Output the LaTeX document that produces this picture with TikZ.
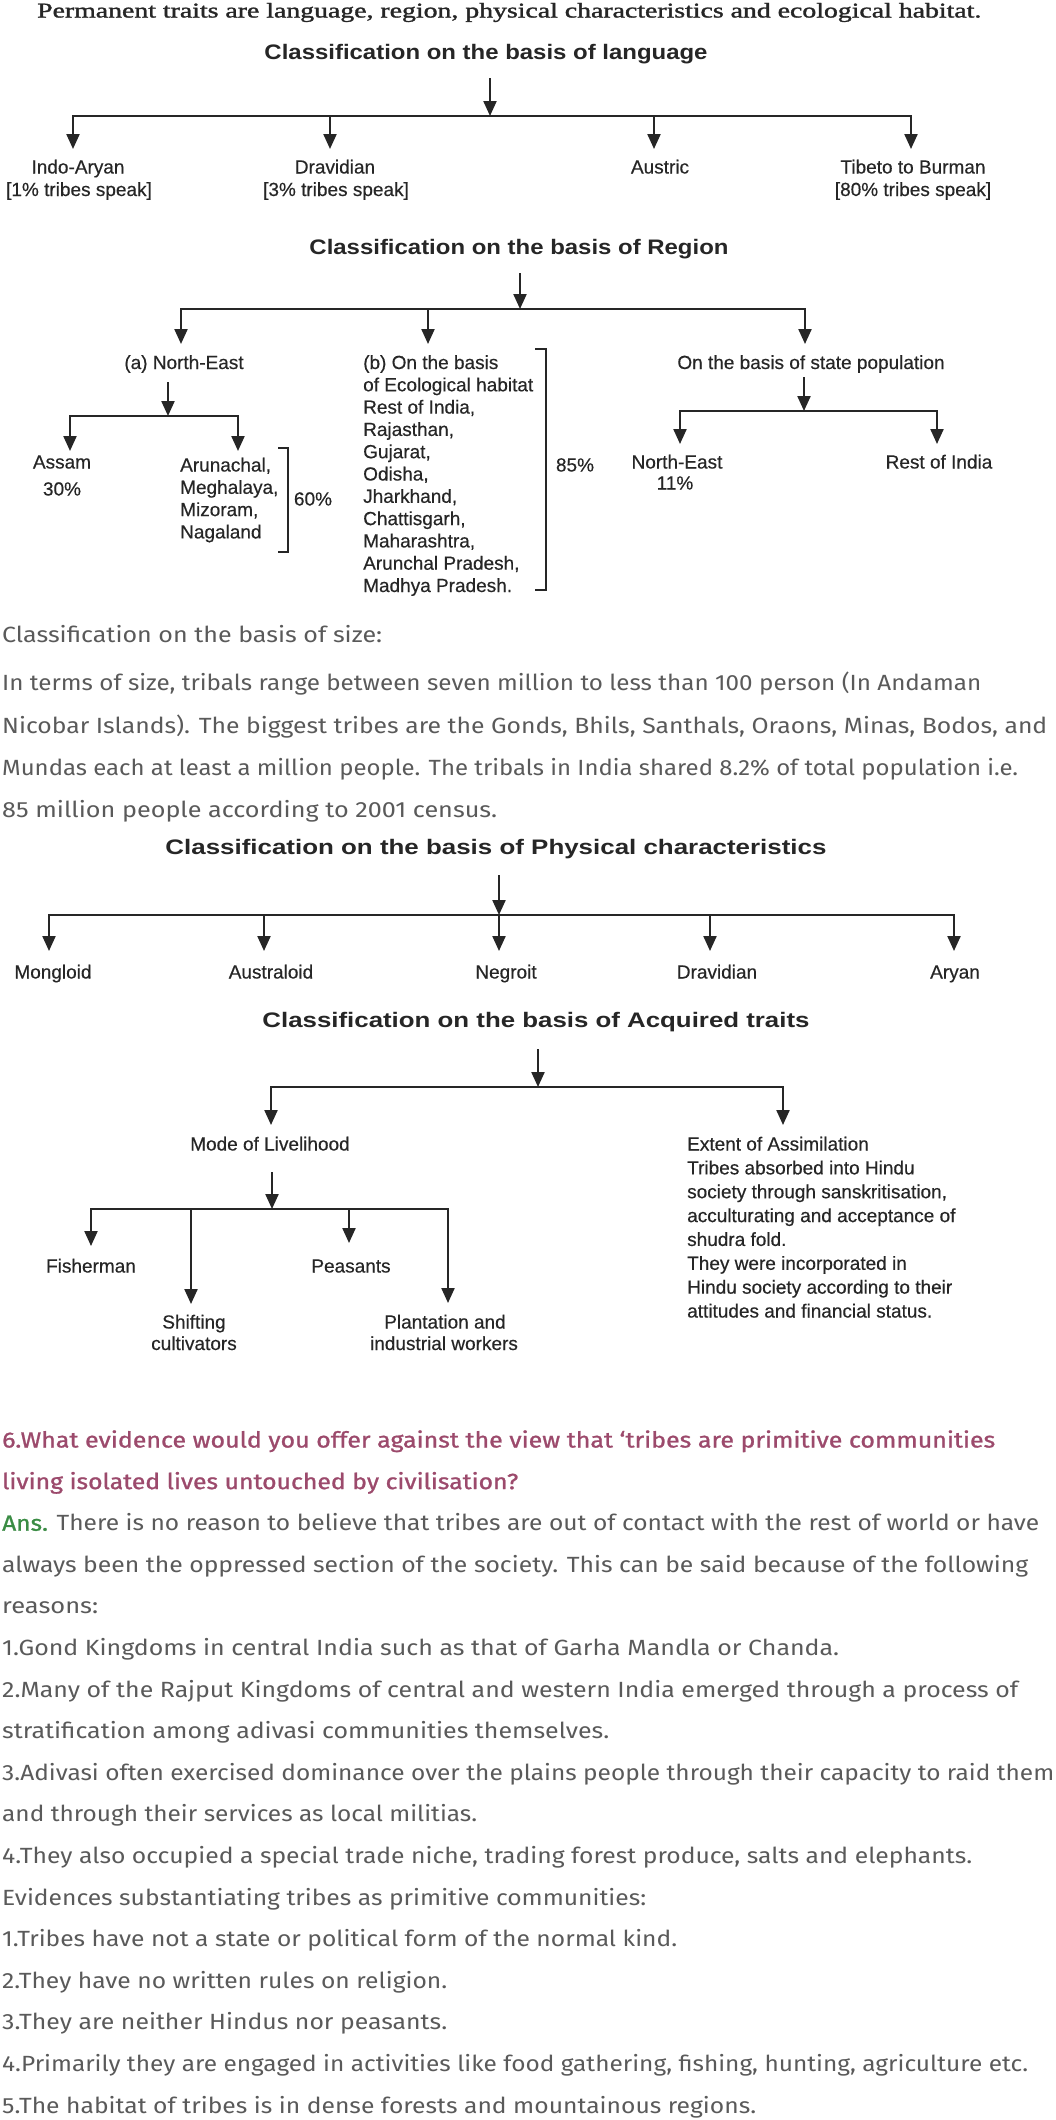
\documentclass[tikz,border=0pt]{standalone}
\usepackage{fontspec}
\usepackage{graphicx}
\setmainfont{Liberation Serif}
\newfontfamily\serifhead{Liberation Serif}[FakeBold=1.3]
\newfontfamily\dfont{Liberation Sans}[FakeBold=0.4]
\newfontfamily\dtitle{Liberation Sans}
\newfontfamily\bodyfont{Fira Sans}
\newfontfamily\qfont{Fira Sans}[FakeBold=1.0]
\usetikzlibrary{arrows.meta}
\definecolor{ink}{HTML}{262626}
\definecolor{bodycol}{HTML}{5A5A5A}
\definecolor{qcol}{RGB}{156,74,108}
\definecolor{anscol}{RGB}{58,140,68}
\tikzset{
  arr/.style={draw=ink, line width=2.2pt, -{Triangle[length=15pt,width=13pt]}},
  barline/.style={draw=ink, line width=2.6pt, line cap=rect},
  brk/.style={draw=ink, line width=2pt},
  lab/.style={font=\dfont\fontsize{19}{23}\selectfont, text=ink, inner sep=0pt, anchor=base},
  labl/.style={lab, anchor=base west},
  ttl/.style={font=\dtitle\bfseries\fontsize{21}{25}\selectfont, text=ink, inner sep=0pt, anchor=base},
  btxt/.style={font=\bodyfont\fontsize{22}{26}\selectfont, text=bodycol, inner sep=0pt, anchor=base west},
  qtxt/.style={font=\qfont\fontsize{22}{26}\selectfont, text=qcol, inner sep=0pt, anchor=base west},
}
\newcommand\fitto[2]{\resizebox{#1pt}{\height}{#2}}
\newcommand\bline[4]{\node[btxt] (#1) at (2,#2) {\fitto{#3}{#4}};}
\begin{document}
\begin{tikzpicture}[x=1pt,y=-1pt]
\fill[white] (0,0) rectangle (1055,2120);
\useasboundingbox (0,0) rectangle (1055,2120);

% top line
\node[font=\serifhead\fontsize{21}{24}\selectfont, anchor=base west, inner sep=0pt, text=black!85] (perm) at (37,17.5)
  {\fitto{944}{Permanent traits are language, region, physical characteristics and ecological habitat.}};

% ---------- language ----------
\node[ttl] (tlang) at (486,59.5) {\fitto{443}{Classification on the basis of language}};
\coordinate (ls) at (490,78);
\coordinate (lj) at (490,116);
\coordinate (lb1) at (73,116);
\coordinate (lb2) at (330,116);
\coordinate (lb3) at (654,116);
\coordinate (lb4) at (911,116);
\draw[arr] (ls) -- (lj);
\draw[barline] (lb1) -- (lb4);
\coordinate (lt1) at (73,149);
\coordinate (lt2) at (330,149);
\coordinate (lt3) at (654,149);
\coordinate (lt4) at (911,149);
\draw[arr] (lb1) -- (lt1);
\draw[arr] (lb2) -- (lt2);
\draw[arr] (lb3) -- (lt3);
\draw[arr] (lb4) -- (lt4);
\node[lab] (ia) at (78,173.5) {Indo-Aryan};
\node[lab] (ia2) at (79,196) {[1\% tribes speak]};
\node[lab] (dr) at (335,173.5) {Dravidian};
\node[lab] (dr2) at (336,196) {[3\% tribes speak]};
\node[lab] (au) at (660,173.5) {Austric};
\node[lab] (tb) at (913,173.5) {Tibeto to Burman};
\node[lab] (tb2) at (913,196) {[80\% tribes speak]};

% ---------- region ----------
\node[ttl] (treg) at (519,254.5) {\fitto{419}{Classification on the basis of Region}};
\coordinate (rs) at (520,273);
\coordinate (rj) at (520,309);
\coordinate (rb1) at (181,309);
\coordinate (rb2) at (428,309);
\coordinate (rb3) at (805,309);
\draw[arr] (rs) -- (rj);
\draw[barline] (rb1) -- (rb3);
\coordinate (rt1) at (181,344);
\coordinate (rt2) at (428,344);
\coordinate (rt3) at (805,344);
\draw[arr] (rb1) -- (rt1);
\draw[arr] (rb2) -- (rt2);
\draw[arr] (rb3) -- (rt3);

\node[lab] (ne) at (184,369) {(a) North-East};
\coordinate (ns) at (168,382);
\coordinate (nj) at (168,416);
\coordinate (nb1) at (70,416);
\coordinate (nb2) at (238,416);
\draw[arr] (ns) -- (nj);
\draw[barline] (nb1) -- (nb2);
\coordinate (nt1) at (70,451);
\coordinate (nt2) at (238,451);
\draw[arr] (nb1) -- (nt1);
\draw[arr] (nb2) -- (nt2);
\node[lab] (as) at (62,468.5) {Assam};
\node[lab] (as2) at (62,495.5) {30\%};
\node[labl] (ar1) at (180,471.5) {Arunachal,};
\node[labl] (ar2) at (180,493.8) {Meghalaya,};
\node[labl] (ar3) at (180,516.1) {Mizoram,};
\node[labl] (ar4) at (180,538.4) {Nagaland};
\draw[brk] (278,448) -- (288,448) -- (288,552) -- (278,552);
\node[lab] (p60) at (313,505.5) {60\%};

\foreach \t [count=\i from 0] in {(b) On the basis, of Ecological habitat, {Rest of India,}, {Rajasthan,}, {Gujarat,}, {Odisha,}, {Jharkhand,}, {Chattisgarh,}, {Maharashtra,}, {Arunchal Pradesh,}, Madhya Pradesh.}
  \node[labl] (eco\i) at (363,369+22.3*\i) {\t};
\draw[brk] (535,349) -- (546,349) -- (546,590) -- (535,590);
\node[lab] (p85) at (575,471.5) {85\%};

\node[lab] (sp) at (811,369) {On the basis of state population};
\coordinate (ss) at (804,377);
\coordinate (sj) at (804,411);
\coordinate (sb1) at (680,411);
\coordinate (sb2) at (937,411);
\draw[arr] (ss) -- (sj);
\draw[barline] (sb1) -- (sb2);
\coordinate (st1) at (680,444);
\coordinate (st2) at (937,444);
\draw[arr] (sb1) -- (st1);
\draw[arr] (sb2) -- (st2);
\node[lab] (sne) at (677,468.5) {North-East};
\node[lab] (sne2) at (675,489.5) {11\%};
\node[lab] (sri) at (939,468.5) {Rest of India};

% ---------- size text ----------
\bline{s1}{642.5}{380}{Classification on the basis of size:}
\bline{s2}{690.5}{979}{In terms of size, tribals range between seven million to less than 100 person (In Andaman}
\bline{s3}{733.5}{1045}{Nicobar Islands). The biggest tribes are the Gonds, Bhils, Santhals, Oraons, Minas, Bodos, and}
\bline{s4}{775.5}{1016}{Mundas each at least a million people. The tribals in India shared 8.2\% of total population i.e.}
\bline{s5}{817.5}{495}{85 million people according to 2001 census.}

% ---------- physical ----------
\node[ttl] (tphy) at (496,854.5) {\fitto{661}{Classification on the basis of Physical characteristics}};
\coordinate (ps) at (499,875);
\coordinate (pj) at (499,915);
\draw[arr] (ps) -- (pj);
\coordinate (pb1) at (49,915);
\coordinate (pb2) at (264,915);
\coordinate (pb3) at (499,915);
\coordinate (pb4) at (710,915);
\coordinate (pb5) at (954,915);
\draw[barline] (pb1) -- (pb5);
\coordinate (pt1) at (49,951);
\coordinate (pt2) at (264,951);
\coordinate (pt3) at (499,951);
\coordinate (pt4) at (710,951);
\coordinate (pt5) at (954,951);
\draw[arr] (pb1) -- (pt1);
\draw[arr] (pb2) -- (pt2);
\draw[arr] (pb3) -- (pt3);
\draw[arr] (pb4) -- (pt4);
\draw[arr] (pb5) -- (pt5);
\node[lab] (mo) at (53,978.5) {Mongloid};
\node[lab] (aus) at (271,978.5) {Australoid};
\node[lab] (neg) at (506,978.5) {Negroit};
\node[lab] (dra) at (717,978.5) {Dravidian};
\node[lab] (ary) at (955,978.5) {Aryan};

% ---------- acquired ----------
\node[ttl] (tacq) at (536,1027.5) {\fitto{547}{Classification on the basis of Acquired traits}};
\coordinate (qs) at (538,1049);
\coordinate (qj) at (538,1087);
\draw[arr] (qs) -- (qj);
\coordinate (qb1) at (271,1087);
\coordinate (qb2) at (783,1087);
\draw[barline] (qb1) -- (qb2);
\coordinate (qt1) at (271,1125);
\coordinate (qt2) at (783,1125);
\draw[arr] (qb1) -- (qt1);
\draw[arr] (qb2) -- (qt2);
\node[lab] (mol) at (270,1150.5) {Mode of Livelihood};
\foreach \t [count=\i from 0] in {Extent of Assimilation, Tribes absorbed into Hindu, {society through sanskritisation,}, acculturating and acceptance of, shudra fold., They were incorporated in, Hindu society according to their, attitudes and financial status.}
  \node[labl] (ext\i) at (687,1150.5+23.86*\i) {\t};

\coordinate (ms) at (272,1172);
\coordinate (mj) at (272,1209);
\draw[arr] (ms) -- (mj);
\coordinate (mb1) at (91,1209);
\coordinate (mb2) at (191,1209);
\coordinate (mb3) at (349,1209);
\coordinate (mb4) at (448,1209);
\draw[barline] (mb1) -- (mb4);
\coordinate (mt1) at (91,1246);
\coordinate (mt2) at (191,1304);
\coordinate (mt3) at (349,1243);
\coordinate (mt4) at (448,1303);
\draw[arr] (mb1) -- (mt1);
\draw[arr] (mb2) -- (mt2);
\draw[arr] (mb3) -- (mt3);
\draw[arr] (mb4) -- (mt4);
\node[lab] (fish) at (91,1272.5) {Fisherman};
\node[lab] (peas) at (351,1272.5) {Peasants};
\node[lab] (shif) at (194,1328.5) {Shifting};
\node[lab] (shif2) at (194,1350) {cultivators};
\node[lab] (plan) at (445,1328.5) {Plantation and};
\node[lab] (plan2) at (444,1350) {industrial workers};

% ---------- question ----------
\node[qtxt] (q1) at (2,1447.5) {\fitto{993}{6.What evidence would you offer against the view that ‘tribes are primitive communities}};
\node[qtxt] (q2) at (2,1489.1) {\fitto{516}{living isolated lives untouched by civilisation?}};
\node[btxt] (ans) at (2,1530.7) {\fitto{1037}{{\qfont\color{anscol}Ans.} There is no reason to believe that tribes are out of contact with the rest of world or have}};
\bline{a2}{1572.3}{1026}{always been the oppressed section of the society. This can be said because of the following}
\bline{a3}{1613.9}{96}{reasons:}
\bline{a4}{1655.5}{837}{1.Gond Kingdoms in central India such as that of Garha Mandla or Chanda.}
\bline{a5}{1697.1}{1016}{2.Many of the Rajput Kingdoms of central and western India emerged through a process of}
\bline{a6}{1738.7}{607}{stratification among adivasi communities themselves.}
\bline{a7}{1780.3}{1052}{3.Adivasi often exercised dominance over the plains people through their capacity to raid them}
\bline{a8}{1821.9}{475}{and through their services as local militias.}
\bline{a9}{1863.5}{970}{4.They also occupied a special trade niche, trading forest produce, salts and elephants.}
\bline{a10}{1905.1}{644}{Evidences substantiating tribes as primitive communities:}
\bline{a11}{1946.7}{675}{1.Tribes have not a state or political form of the normal kind.}
\bline{a12}{1988.3}{445}{2.They have no written rules on religion.}
\bline{a13}{2029.9}{445}{3.They are neither Hindus nor peasants.}
\bline{a14}{2071.5}{1026}{4.Primarily they are engaged in activities like food gathering, fishing, hunting, agriculture etc.}
\bline{a15}{2113.1}{754}{5.The habitat of tribes is in dense forests and mountainous regions.}
\end{tikzpicture}
\end{document}
